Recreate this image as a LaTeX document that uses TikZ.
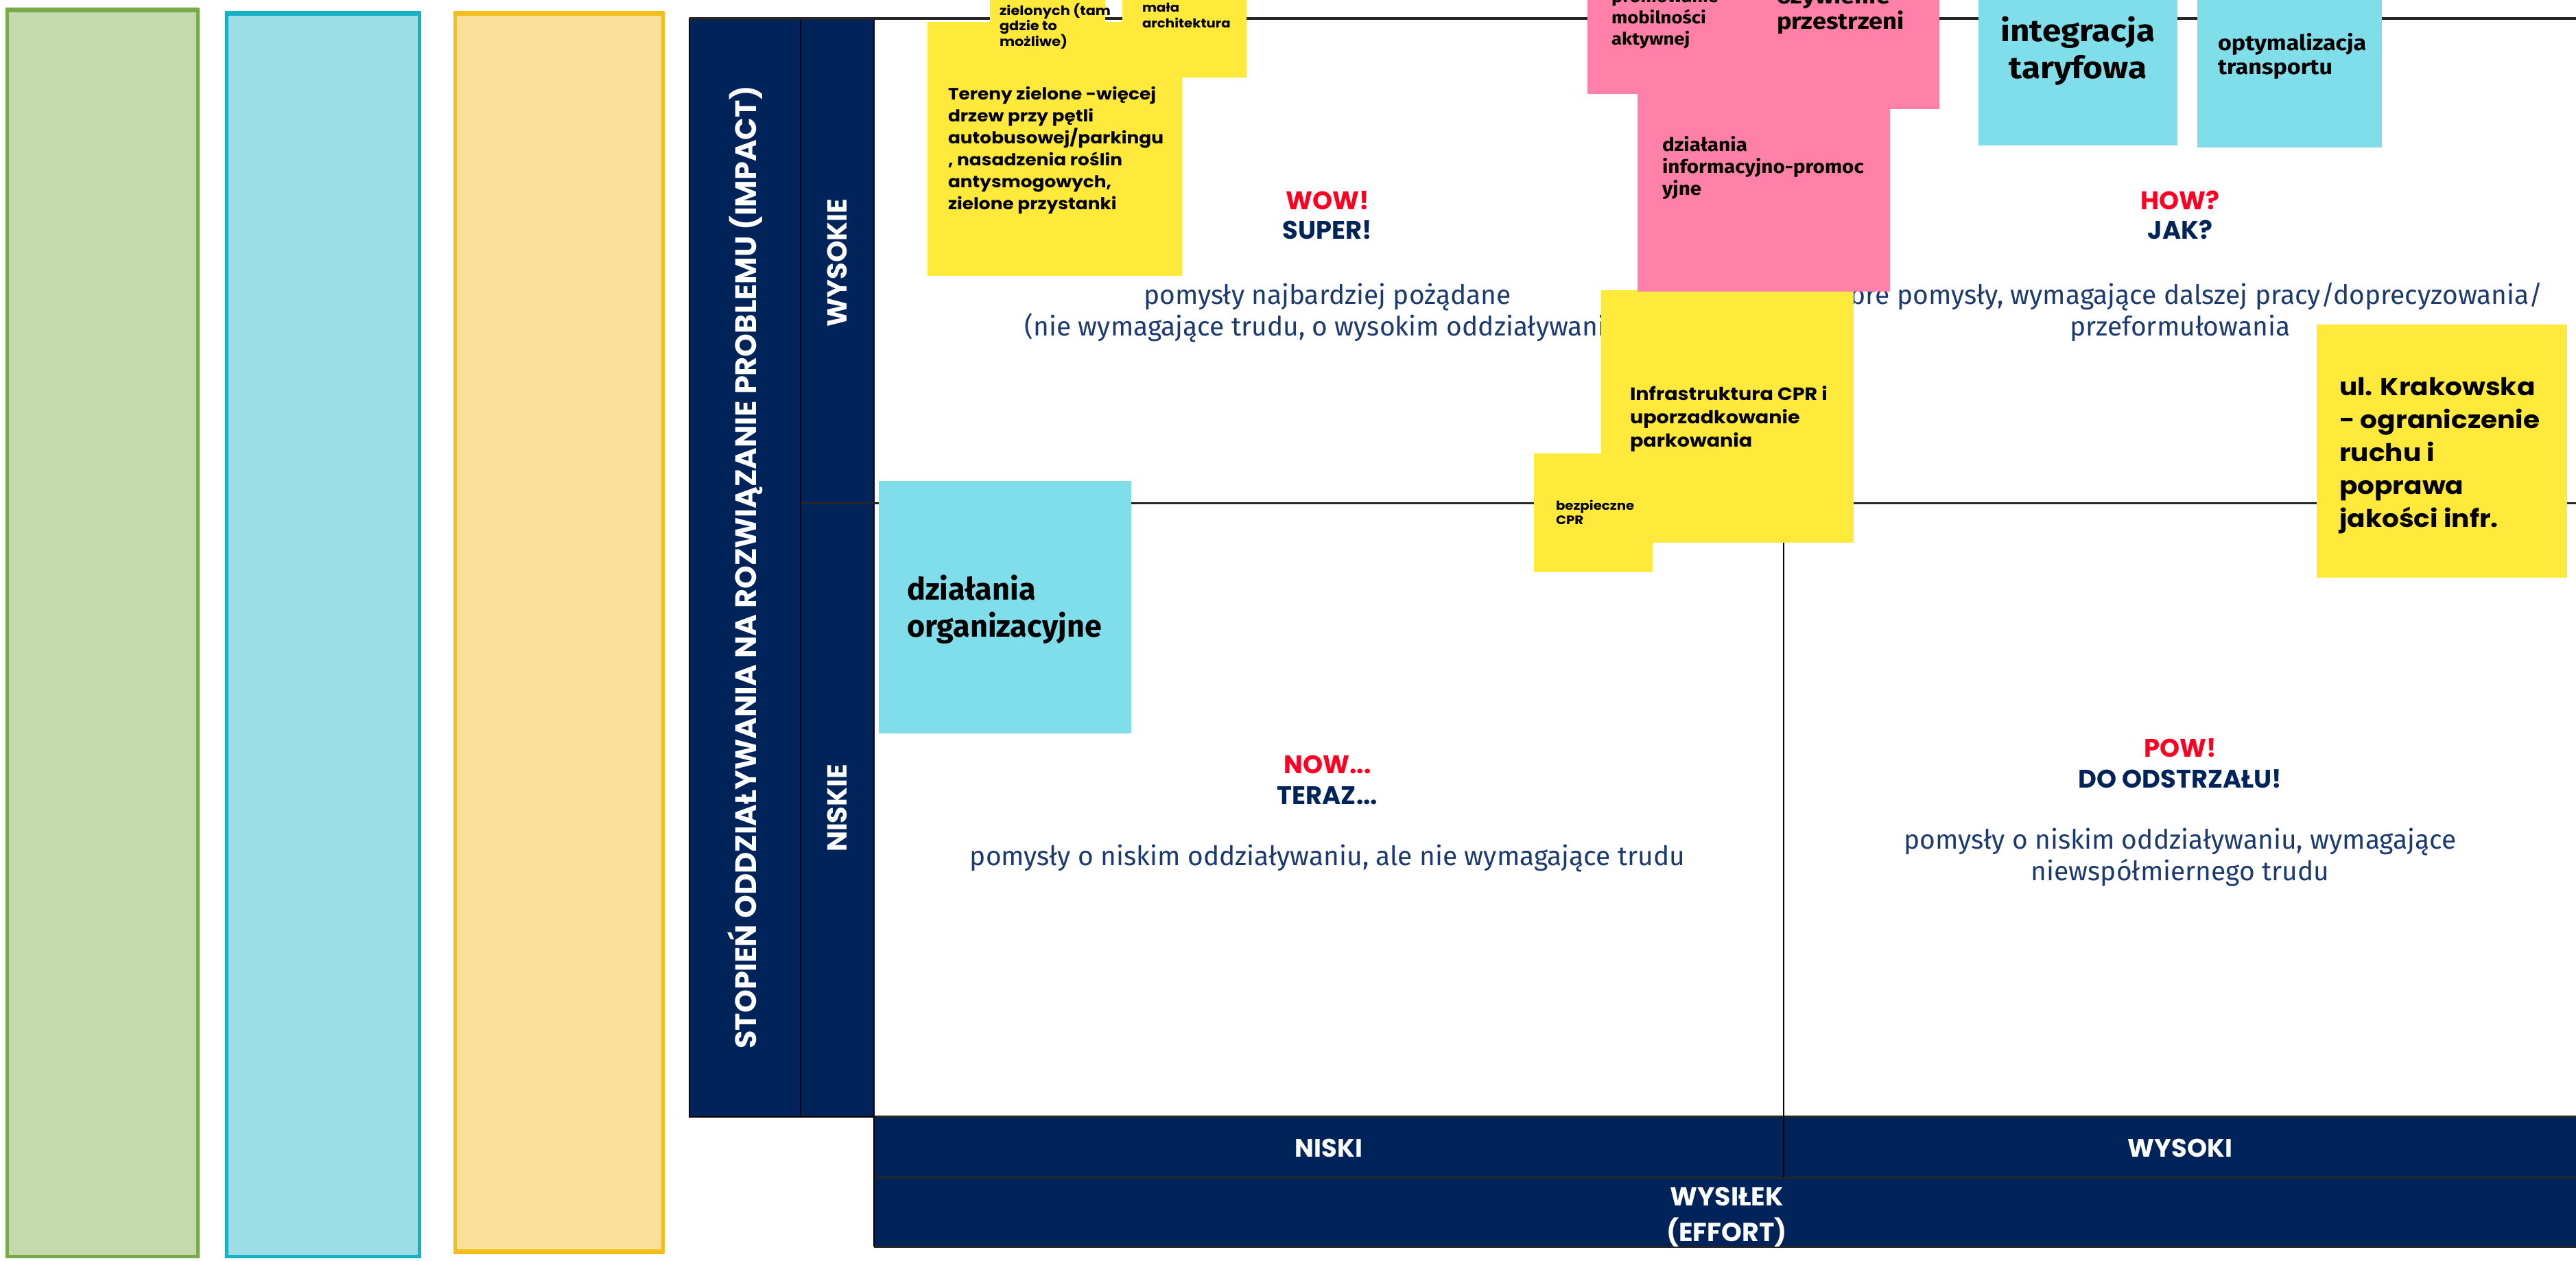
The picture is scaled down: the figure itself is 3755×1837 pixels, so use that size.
\documentclass[tikz,border=0pt]{standalone}
\usepackage{fontspec}
\setmainfont{Fira Sans}
\newfontfamily\pop{Poppins}
\newfontfamily\popw{Poppins}[FakeStretch=1.1]
\newfontfamily\fira{Fira Sans}
\newfontfamily\firaw{Fira Sans}[FakeStretch=1.1]
\definecolor{navy}{HTML}{00245A}
\definecolor{wred}{HTML}{FF0022}
\definecolor{descc}{HTML}{1C3A70}
\definecolor{stY}{HTML}{FFEA3B}
\definecolor{stP}{HTML}{FF80A9}
\definecolor{stB}{HTML}{80DEEA}
\definecolor{grfill}{HTML}{C4D9AD}
\definecolor{grline}{HTML}{78A94B}
\definecolor{blfill}{HTML}{9DDEE6}
\definecolor{blline}{HTML}{17B1C6}
\definecolor{yefill}{HTML}{FAE09B}
\definecolor{yeline}{HTML}{F3BE1C}
\newcommand\tl[1]{\begin{tabular}[t]{@{}l@{}}#1\end{tabular}}
\newcommand\tc[1]{\begin{tabular}[t]{@{}c@{}}#1\end{tabular}}
\begin{document}
\begin{tikzpicture}[x=1pt,y=-1pt,
  every node/.style={inner sep=0pt, outer sep=0pt},
  stxt/.style={anchor=base west, text=black},
  hdr/.style={anchor=base, font=\pop\bfseries\fontsize{37}{44}\selectfont},
  dsc/.style={anchor=base, text=descc, font=\fira\fontsize{39}{46}\selectfont},
  axis/.style={text=white, font=\pop\bfseries\fontsize{40}{52}\selectfont},
  mline/.style={draw=black!85, line width=3pt}]
\useasboundingbox (0,0) rectangle (3755,1837);
\clip (0,0) rectangle (3755,1837);
\fill[white] (0,0) rectangle (3755,1837);

% left coloured columns
\draw[grline, fill=grfill, line width=5pt] (10,14) rectangle (288,1831);
\draw[grline, line width=7pt] (8,14) -- (290,14);
\draw[blline, fill=blfill, line width=5pt] (330,19) rectangle (611,1831);
\draw[blline, line width=7pt] (328,19) -- (613,19);
\draw[yeline, fill=yefill, line width=5pt] (663,19) rectangle (966,1824);
\draw[yeline, line width=7pt] (661,19) -- (968,19);
\draw[yeline, line width=7pt] (661,1824) -- (968,1824);

% impact column
\fill[navy] (1005,27) rectangle (1274,1628);
\draw[black, line width=2pt] (1005,27) rectangle (1274,1628);
\draw[black, line width=2pt] (1167,27) -- (1167,1628);

% effort bands
\fill[navy] (1274,1627) rectangle (3760,1817);
\draw[mline] (1274,1627) -- (3760,1627);
\draw[mline] (1274,1716) -- (3760,1716);
\draw[mline] (1274,1817) -- (3760,1817);
\draw[black, line width=2pt] (1274,1627) -- (1274,1817);

% matrix lines
\coordinate (tl) at (1005,27);
\coordinate (tr) at (3760,27);
\coordinate (ml) at (1167,733);
\coordinate (mr) at (3760,733);
\coordinate (vt) at (2600,27);
\coordinate (vb) at (2600,1716);
\draw[draw=black!85, line width=4pt] (tl) -- (tr);
\draw[mline] (ml) -- (mr);
\draw[black, line width=2.5pt] (vt) -- (vb);

% axis texts
\node[axis, rotate=90, font=\pop\bfseries\fontsize{43}{50}\selectfont] (impact) at (1086,827) {STOPIEŃ ODDZIAŁYWANIA NA ROZWIĄZANIE PROBLEMU (IMPACT)};
\node[axis, rotate=90] (wysokie) at (1220,383) {WYSOKIE};
\node[axis, rotate=90] (niskie) at (1220,1178) {NISKIE};
\node[axis, font=\pop\bfseries\fontsize{37}{52}\selectfont] (niski) at (1937,1673) {NISKI};
\node[axis, font=\pop\bfseries\fontsize{37}{52}\selectfont] (wysoki) at (3178,1673) {WYSOKI};
\node[axis, anchor=base, font=\pop\bfseries\fontsize{38}{52}\selectfont] (wysilek) at (2517,1757) {\tc{WYSIŁEK\\(EFFORT)}};

% quadrant texts
\node[hdr, text=wred] (wow) at (1935,305) {WOW!};
\node[hdr, text=navy] (super) at (1935,348) {SUPER!};
\node[dsc] (d1) at (1935,443) {\tc{pomysły najbardziej pożądane\\(nie wymagające trudu, o wysokim oddziaływaniu)}};
\node[hdr, text=wred] (how) at (3178,305) {HOW?};
\node[hdr, text=navy] (jak) at (3178,348) {JAK?};
\node[dsc] (d2) at (3178,443) {\tc{Dobre pomysły, wymagające dalszej pracy/doprecyzowania/\\przeformułowania}};
\node[hdr, text=wred] (now) at (1935,1127) {NOW...};
\node[hdr, text=navy] (teraz) at (1935,1172) {TERAZ...};
\node[dsc] (d3) at (1935,1261) {pomysły o niskim oddziaływaniu, ale nie wymagające trudu};
\node[hdr, text=wred] (pow) at (3178,1103) {POW!};
\node[hdr, text=navy] (odstrzal) at (3178,1148) {DO ODSTRZAŁU!};
\node[dsc] (d4) at (3178,1237) {\tc{pomysły o niskim oddziaływaniu, wymagające\\niewspółmiernego trudu}};

% yellow stickies (top left)
\fill[stY] (1352,32) rectangle (1723,402);
\node[stxt, font=\popw\bfseries\fontsize{24}{32}\selectfont] (tereny) at (1382,145) {\tl{Tereny zielone -więcej\\drzew przy pętli\\autobusowej/parkingu\\, nasadzenia roślin\\antysmogowych,\\zielone przystanki}};
\fill[stY] (1443,-10) rectangle (1611,80);
\node[stxt, font=\popw\bfseries\fontsize{19}{22}\selectfont] (zielonych) at (1457,22) {\tl{zielonych (tam\\gdzie to\\możliwe)}};
\fill[stY] (1636,-10) rectangle (1817,113);
\node[stxt, font=\popw\bfseries\fontsize{18}{23}\selectfont] (mala) at (1665,17) {\tl{mała\\architektura}};

% infrastructure stickies
\fill[stY] (2334,423) rectangle (2702,791);
\node[stxt, font=\popw\bfseries\fontsize{26}{34}\selectfont] (infra) at (2376,583) {\tl{Infrastruktura CPR i\\uporzadkowanie\\parkowania}};
\fill[stY] (2236,661) rectangle (2409,834);
\node[stxt, font=\popw\bfseries\fontsize{18}{21}\selectfont] (bezp) at (2268,743) {\tl{bezpieczne\\CPR}};

% pink stickies
\fill[stP] (2314,-10) rectangle (2640,137);
\fill[stP] (2560,-10) rectangle (2827,159);
\fill[stP] (2387,120) rectangle (2755,425);
\node[stxt, font=\firaw\bfseries\fontsize{25}{31}\selectfont] (promo) at (2349,3) {\tl{promowanie\\mobilności\\aktywnej}};
\node[stxt, font=\firaw\bfseries\fontsize{33}{36}\selectfont] (ozyw) at (2590,5) {\tl{ożywienie\\przestrzeni}};
\node[stxt, font=\firaw\bfseries\fontsize{27}{32}\selectfont] (info) at (2423,220) {\tl{działania\\informacyjno-promoc\\yjne}};

% blue stickies
\fill[stB] (2884,-10) rectangle (3174,212);
\node[anchor=base, font=\firaw\bfseries\fontsize{45}{54}\selectfont] (taryf) at (3029,60) {\tc{integracja\\taryfowa}};
\fill[stB] (3203,-10) rectangle (3472,215);
\node[stxt, font=\firaw\bfseries\fontsize{31}{35}\selectfont] (optym) at (3233,73) {\tl{optymalizacja\\transportu}};
\fill[stB] (1281,701) rectangle (1649,1069);
\node[stxt, font=\fira\bfseries\fontsize{45}{54}\selectfont] (organ) at (1322,874) {\tl{działania\\organizacyjne}};

% Krakowska sticky
\fill[stY] (3377,473) rectangle (3742,842);
\node[stxt, font=\popw\bfseries\fontsize{35.5}{48}\selectfont] (krak) at (3410,576) {\tl{ul. Krakowska\\- ograniczenie\\ruchu i\\poprawa\\jakości infr.}};
\end{tikzpicture}
\end{document}
